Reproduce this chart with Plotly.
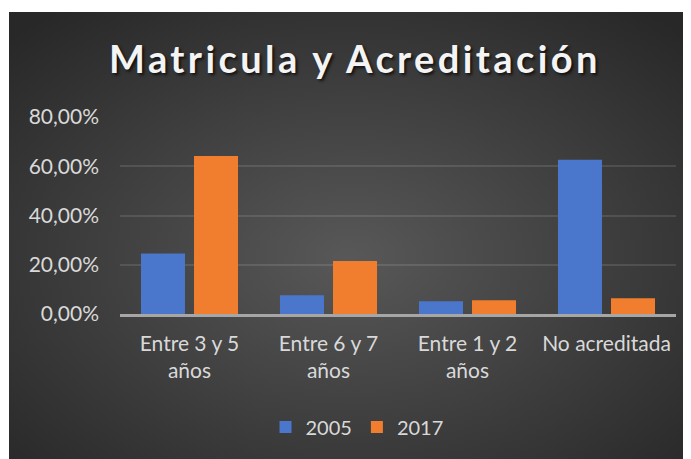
import plotly.graph_objects as go

categories = ["Entre 3 y 5<br>años", "Entre 6 y 7<br>años", "Entre 1 y 2<br>años", "No acreditada"]
series_2005 = [0.246, 0.076, 0.052, 0.626]
series_2017 = [0.642, 0.215, 0.056, 0.064]
y_ticks = [0, 0.2, 0.4, 0.6, 0.8]

# page has an 8px body margin, so figure coordinates = page coordinates - 8
W, H = 683, 451
L, R, T, B = 112, 15, 109, 145
pw, ph = W - L - R, H - T - B

svg = ("data:image/svg+xml;utf8,<svg xmlns='http://www.w3.org/2000/svg' width='682' height='447' "
       "viewBox='0 0 682 447' preserveAspectRatio='none'><defs><radialGradient id='g' cx='50%25' cy='55%25' r='70%25'>"
       "<stop offset='0' stop-color='%23585858'/><stop offset='1' stop-color='%23282828'/></radialGradient></defs>"
       "<rect width='682' height='447' fill='url(%23g)'/></svg>")

x0 = (1 - L) / pw
x1 = (W - L) / pw
y0 = (T + ph - 4) / ph
y1 = (T + ph - H) / ph

font = "Lato, 'Open Sans', sans-serif"

fig = go.Figure()
fig.add_trace(go.Bar(name="2005", x=categories, y=series_2005,
                     marker=dict(color="#4a77cc", line=dict(width=0))))
fig.add_trace(go.Bar(name="2017", x=categories, y=series_2017,
                     marker=dict(color="#f07e2e", line=dict(width=0))))

fig.update_layout(
    width=W, height=H,
    margin=dict(l=L, r=R, t=T, b=B, pad=0),
    paper_bgcolor="white",
    plot_bgcolor="rgba(0,0,0,0)",
    separators=",.",
    barmode="group",
    bargap=0.237,
    bargroupgap=0.17,
    title=dict(text="<b><span style='letter-spacing:3.4px'>Matricula y Acreditación</span></b>",
               x=347 / W, xanchor="center",
               y=1 - 52 / H, yanchor="middle",
               font=dict(family=font, size=38, color="#f4f4f4",
                         shadow="2px 2px 3px rgba(0,0,0,0.7)")),
    font=dict(family=font, size=20, color="#d9d9d9"),
    showlegend=True,
    legend=dict(orientation="h", x=(349 - L) / pw, xanchor="center",
                y=(T + ph - 419) / ph, yanchor="middle",
                font=dict(size=20, color="#d9d9d9"), bgcolor="rgba(0,0,0,0)",
                itemwidth=30, tracegroupgap=0),
    images=[dict(source=svg, xref="paper", yref="paper", x=x0, y=y0,
                 sizex=x1 - x0, sizey=y0 - y1, sizing="stretch",
                 xanchor="left", yanchor="top", layer="below")],
)
fig.update_yaxes(range=[0, 0.8], tickvals=y_ticks, tickformat=".2%",
                 showgrid=True, gridcolor="rgba(255,255,255,0.11)", gridwidth=1.5,
                 zeroline=False, showline=False, ticks="", ticklabelstandoff=20,
                 tickfont=dict(size=21, color="#d9d9d9"))
fig.update_xaxes(showgrid=False, showline=True, linecolor="#a6a6a6", linewidth=2.5,
                 ticks="", ticklabelstandoff=9, tickfont=dict(size=21, color="#d9d9d9"))

fig.write_html("out.html")
